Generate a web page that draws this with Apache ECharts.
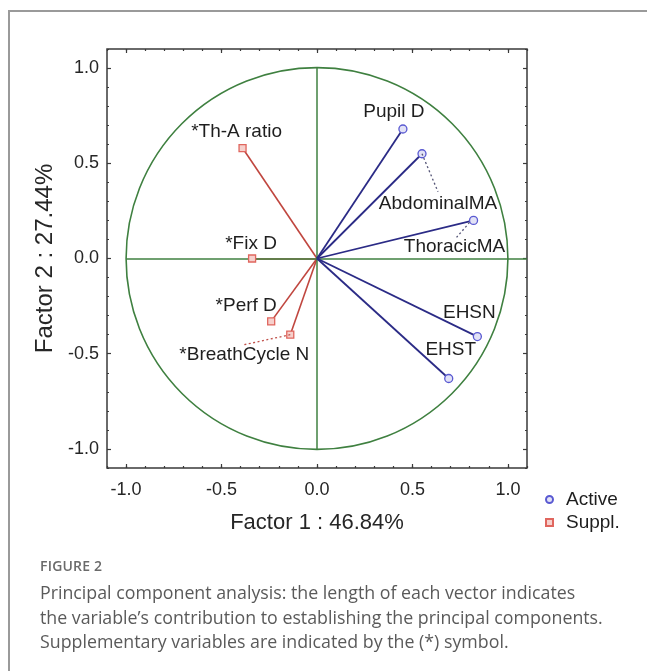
<!DOCTYPE html>
<html>
<head>
<meta charset="utf-8">
<script src="https://cdn.jsdelivr.net/npm/echarts@6/dist/echarts.min.js"></script>
<style>
  html, body { margin: 0; padding: 0; background: #ffffff; }
  #wrap { position: relative; width: 647px; height: 671px; overflow: hidden; }
  #frame { position: absolute; left: 8px; top: 10px; width: 660px; height: 700px;
           border-left: 2px solid #9a9a9a; border-top: 2px solid #9a9a9a; box-sizing: border-box; }
  #chart { position: absolute; left: 0; top: 0; width: 647px; height: 671px; }
  #cap { position: absolute; left: 40px; top: 556px; width: 605px; font-family: "Open Sans", "Noto Sans", sans-serif; color: #555; }
  #cap .fig { font-size: 14px; font-weight: 600; color: #6a6a6a; letter-spacing: 0.2px; line-height: 20px; }
  #cap .txt { font-size: 17.8px; font-weight: 400; line-height: 24.5px; margin-top: 4px; color: #5a5a5a; white-space: nowrap; }
</style>
</head>
<body>
<div id="wrap">
  <div id="frame"></div>
  <div id="chart"></div>
  <div id="cap">
    <div class="fig">FIGURE 2</div>
    <div class="txt">Principal component analysis: the length of each vector indicates<br>the variable’s contribution to establishing the principal components.<br>Supplementary variables are indicated by the (*) symbol.</div>
  </div>
</div>
<script>
// ---- data ----
const activeNames = ['Pupil D', 'AbdominalMA', 'ThoracicMA', 'EHSN', 'EHST'];
const activeX = [0.45, 0.55, 0.82, 0.84, 0.69];
const activeY = [0.68, 0.55, 0.20, -0.41, -0.63];

const supplNames = ['*Th-A ratio', '*Fix D', '*Perf D', '*BreathCycle N'];
const supplX = [-0.39, -0.34, -0.24, -0.14];
const supplY = [0.58, 0.00, -0.33, -0.40];

const origin = [0, 0];
const circleRadius = 1;
const axisSegments = [[[-1, 0], [1.1, 0]], [[0, -1], [0, 1]]];

const majorTicks = [-1.0, -0.5, 0.0, 0.5, 1.0];
const minorTicks = [-1.1, -1.0, -0.9, -0.8, -0.7, -0.6, -0.5, -0.4, -0.3, -0.2, -0.1, 0.0,
                    0.1, 0.2, 0.3, 0.4, 0.5, 0.6, 0.7, 0.8, 0.9, 1.0, 1.1];
const axisMin = -1.1, axisMax = 1.1;
const xTitle = 'Factor 1 : 46.84%';
const yTitle = 'Factor 2 : 27.44%';

// ---- label layout (pixel offsets, styling only) ----
const labelLayout = {
  'Pupil D':        { dx: -9,  dy: -17 },
  'AbdominalMA':    { dx: 16,  dy: 50, lead: [16, 38] },
  'ThoracicMA':     { dx: -19, dy: 26, lead: [-17, 17], leadFrom: [-4, 2] },
  'EHSN':           { dx: -8,  dy: -24 },
  'EHST':           { dx: 2,   dy: -29 },
  '*Th-A ratio':    { dx: -6,  dy: -16 },
  '*Fix D':         { dx: -1,  dy: -15 },
  '*Perf D':        { dx: -25, dy: -16 },
  '*BreathCycle N': { dx: -46, dy: 20, lead: [-46, 10] }
};

const BLUE_LINE = '#2b2b86', RED_LINE = '#c0463f';
const GREEN = '#3f8040', FRAME = '#3a3a3a';
const FONT = '"Liberation Sans", Arial, sans-serif';

const activePts = activeX.map((x, i) => [x, activeY[i]]);
const supplPts = supplX.map((x, i) => [x, supplY[i]]);

function vectorData(pts) { return pts.map(p => ({ coords: [origin, p] })); }

function labelSeries(names, pts, leadColor) {
  return {
    type: 'custom', xAxisIndex: 0, yAxisIndex: 0, z: 20, silent: true,
    data: pts,
    renderItem: function (params, api) {
      const p = api.coord([api.value(0), api.value(1)]);
      const s = labelLayout[names[params.dataIndex]];
      const children = [];
      if (s.lead) {
        const f = s.leadFrom || [0, 0];
        children.push({
          type: 'line',
          shape: { x1: p[0] + f[0], y1: p[1] + f[1], x2: p[0] + s.lead[0], y2: p[1] + s.lead[1] },
          style: { stroke: leadColor, lineWidth: 1.3, lineDash: [2, 2.5] }
        });
      }
      children.push({
        type: 'text', x: p[0] + s.dx, y: p[1] + s.dy,
        style: { text: names[params.dataIndex], font: '19px ' + FONT, fill: '#1e1e1e',
                 align: 'center', verticalAlign: 'middle' }
      });
      return { type: 'group', children: children };
    }
  };
}

function mkAxis(pos, ticks, len, withLabels, extra) {
  return Object.assign({
    type: 'value', min: axisMin, max: axisMax, position: pos,
    axisLine: { show: false, onZero: false }, splitLine: { show: false },
    axisTick: { show: true, inside: true, length: len, customValues: ticks,
                lineStyle: { color: FRAME, width: 1.2 } },
    axisLabel: { show: false }
  }, extra || {});
}

const tickLabel = { show: true, customValues: majorTicks, formatter: v => v.toFixed(1),
                    fontSize: 18, fontFamily: FONT, color: '#262626' };

const chart = echarts.init(document.getElementById('chart'), null, { renderer: 'canvas' });
chart.setOption({
  animation: false,
  backgroundColor: 'transparent',
  grid: { left: 107, top: 49, width: 420, height: 419, show: true,
          borderColor: FRAME, borderWidth: 1.5, backgroundColor: 'transparent' },
  xAxis: [
    mkAxis('bottom', majorTicks, 4, true, {
      name: xTitle, nameLocation: 'middle', nameGap: 44,
      nameTextStyle: { fontSize: 22, fontFamily: FONT, color: '#262626' },
      axisLabel: Object.assign({}, tickLabel, { margin: 13 })
    }),
    mkAxis('bottom', minorTicks, 2, false),
    mkAxis('top', majorTicks, 4, false),
    mkAxis('top', minorTicks, 2, false)
  ],
  yAxis: [
    mkAxis('left', majorTicks, 4, true, {
      name: yTitle, nameLocation: 'middle', nameGap: 49,
      nameTextStyle: { fontSize: 24, fontFamily: FONT, color: '#262626' },
      axisLabel: Object.assign({}, tickLabel, { margin: 8 })
    }),
    mkAxis('left', minorTicks, 2, false),
    mkAxis('right', majorTicks, 4, false),
    mkAxis('right', minorTicks, 2, false)
  ],
  legend: {
    orient: 'vertical', left: 540, top: 485, itemWidth: 7, itemHeight: 7, itemGap: 4,
    data: ['Active', 'Suppl.'],
    textStyle: { fontSize: 19, fontFamily: FONT, color: '#1e1e1e', padding: [0, 0, 0, 8] }
  },
  series: [
    {
      type: 'custom', silent: true, z: 1, data: [origin],
      renderItem: function (params, api) {
        const c = api.coord([api.value(0), api.value(1)]);
        const sz = api.size([circleRadius, circleRadius]);
        return { type: 'circle', shape: { cx: c[0], cy: c[1], r: sz[0] },
                 style: { fill: 'none', stroke: GREEN, lineWidth: 1.6 } };
      }
    },
    {
      type: 'lines', coordinateSystem: 'cartesian2d', silent: true, z: 2,
      data: vectorData(supplPts),
      lineStyle: { color: RED_LINE, width: 1.6, opacity: 1 }
    },
    {
      type: 'lines', coordinateSystem: 'cartesian2d', silent: true, z: 3,
      data: axisSegments.map(s => ({ coords: s })),
      lineStyle: { color: GREEN, width: 1.5, opacity: 1 }
    },
    {
      type: 'lines', coordinateSystem: 'cartesian2d', silent: true, z: 4,
      data: vectorData(activePts),
      lineStyle: { color: BLUE_LINE, width: 1.8, opacity: 1 }
    },
    {
      name: 'Active', type: 'scatter', z: 5, data: activePts, symbol: 'circle', symbolSize: 8,
      itemStyle: { color: '#e2e2f6', borderColor: '#5a5ad2', borderWidth: 1.3, opacity: 1 }
    },
    {
      name: 'Suppl.', type: 'scatter', z: 5, data: supplPts, symbol: 'rect', symbolSize: 7,
      itemStyle: { color: '#f6d0cc', borderColor: '#e0665e', borderWidth: 1.3, opacity: 1 }
    },
    labelSeries(activeNames, activePts, '#555577'),
    labelSeries(supplNames, supplPts, '#c0504a')
  ]
});
</script>
</body>
</html>
